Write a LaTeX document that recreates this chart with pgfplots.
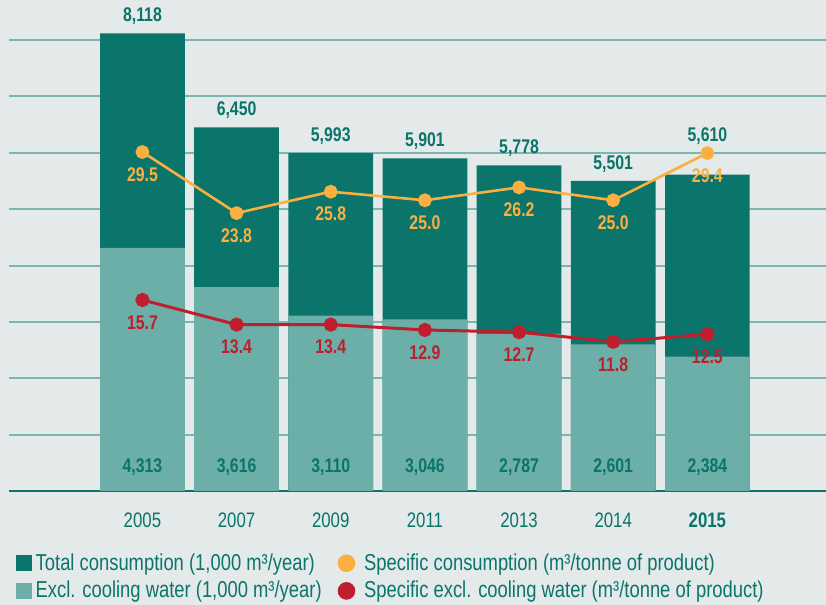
\documentclass[border=0pt]{standalone}
\usepackage{pgfplots}
\usepackage{pgfplotstable}
\pgfplotsset{compat=1.18}
\usepackage{fontspec}
\setmainfont{Liberation Sans}[FakeStretch=0.8]
\definecolor{bg}{RGB}{228,234,234}
\definecolor{dteal}{RGB}{11,116,107}
\definecolor{lteal}{RGB}{107,175,168}
\definecolor{gridc}{RGB}{125,182,176}
\definecolor{orangec}{RGB}{250,176,64}
\definecolor{redc}{RGB}{190,30,45}
\newcommand{\lblfont}{\bfseries\fontsize{9.9}{11}\selectfont}
\pgfplotstableread{
x tot totl ty ex exl ly sc scl se sel
0 8118 8,118 8118 4313 4,313 420 29.5 29.5 15.7 15.7
1 6450 6,450 6450 3616 3,616 420 23.8 23.8 13.4 13.4
2 5993 5,993 5993 3110 3,110 420 25.8 25.8 13.4 13.4
3 5901 5,901 5901 3046 3,046 420 25.0 25.0 12.9 12.9
4 5778 5,778 5778 2787 2,787 420 26.2 26.2 12.7 12.7
5 5501 5,501 5501 2601 2,601 420 25.0 25.0 11.8 11.8
6 5610 5,610 6000 2384 2,384 420 29.4 29.4 12.5 12.5
}\data
\begin{document}
\begin{tikzpicture}
\fill[bg] (0,0) rectangle (413pt,302.5pt);
\begin{axis}[
  at={(4.65pt,57pt)}, anchor=south west,
  scale only axis, width=408.35pt, height=225.5pt,
  xmin=-1.414, xmax=7.26, ymin=0, ymax=8000,
  clip=false,
  axis x line=bottom, axis y line=left,
  x axis line style={draw=dteal, line width=1pt, -},
  y axis line style={draw=none},
  ytick={1000,2000,...,8000}, yticklabels={},
  ymajorgrids, major grid style={draw=gridc, line width=1pt},
  xtick={0,...,6},
  xticklabels={2005,2007,2009,2011,2013,2014,\textbf{2015}},
  xtick style={draw=none}, ytick style={draw=none},
  xticklabel style={font=\fontsize{10.5}{12}\selectfont, text=dteal, yshift=-5.5pt},
  legend style={at={(0,0)}, anchor=north west, draw=none, fill=none,
    xshift=3pt, yshift=-29pt, inner sep=0pt,
    font=\fontsize{11.5}{13}\selectfont, text=dteal,
    cells={anchor=west}, row sep=0pt,
    /tikz/every even column/.append style={column sep=6pt}},
  legend columns=2, transpose legend,
]
\addplot[ybar, bar width=0.9, bar shift=0pt, fill=dteal, draw=none,
  legend image code/.code={\fill[dteal] (0pt,-4pt) rectangle (8pt,4pt);}]
  table[x=x, y=tot]{\data};
\addlegendentry{Total consumption (1,000 m³/year)}
\addplot[ybar, bar width=0.9, bar shift=0pt, fill=lteal, draw=none,
  legend image code/.code={\fill[lteal] (0pt,-4pt) rectangle (8pt,4pt);}]
  table[x=x, y=ex]{\data};
\addlegendentry{Excl. cooling water (1,000 m³/year)}
\addlegendimage{legend image code/.code={\fill[orangec] (4.2pt,0pt) circle (4.2pt);\path[draw=none,fill=none,opacity=0] (10.5pt,-1pt) rectangle (11pt,1pt);}}
\addlegendentry{Specific consumption (m³/tonne of product)}
\addlegendimage{legend image code/.code={\fill[redc] (4.2pt,0pt) circle (4.2pt);\path[draw=none,fill=none,opacity=0] (10.5pt,-1pt) rectangle (11pt,1pt);}}
\addlegendentry{Specific excl. cooling water (m³/tonne of product)}
\addplot[draw=none, mark=none, forget plot,
  nodes near coords, point meta=explicit symbolic,
  nodes near coords style={font=\lblfont, text=dteal, anchor=south, inner sep=0pt, yshift=4pt}]
  table[x=x, y=ty, meta=totl]{\data};
\addplot[draw=none, mark=none, forget plot,
  nodes near coords, point meta=explicit symbolic,
  nodes near coords style={font=\lblfont, text=dteal, anchor=center, inner sep=0pt}]
  table[x=x, y=ly, meta=exl]{\data};
\end{axis}
\begin{axis}[
  at={(4.65pt,57pt)}, anchor=south west,
  scale only axis, width=408.35pt, height=225.5pt,
  xmin=-1.414, xmax=7.26, ymin=-2.12, ymax=39.95,
  hide axis, clip=false,
]
\addplot[orangec, line width=1.3pt, mark=*, mark size=2.8pt,
  nodes near coords, point meta=explicit symbolic,
  nodes near coords style={font=\lblfont, text=orangec, anchor=north, inner sep=0pt, yshift=-7pt}]
  table[x=x, y=sc, meta=scl]{\data};
\addplot[redc, line width=1.5pt, mark=*, mark size=2.8pt,
  nodes near coords, point meta=explicit symbolic,
  nodes near coords style={font=\lblfont, text=redc, anchor=north, inner sep=0pt, yshift=-7pt}]
  table[x=x, y=se, meta=sel]{\data};
\end{axis}
\pgfresetboundingbox
\path (0,0) rectangle (413pt,302.5pt);
\end{tikzpicture}
\end{document}
